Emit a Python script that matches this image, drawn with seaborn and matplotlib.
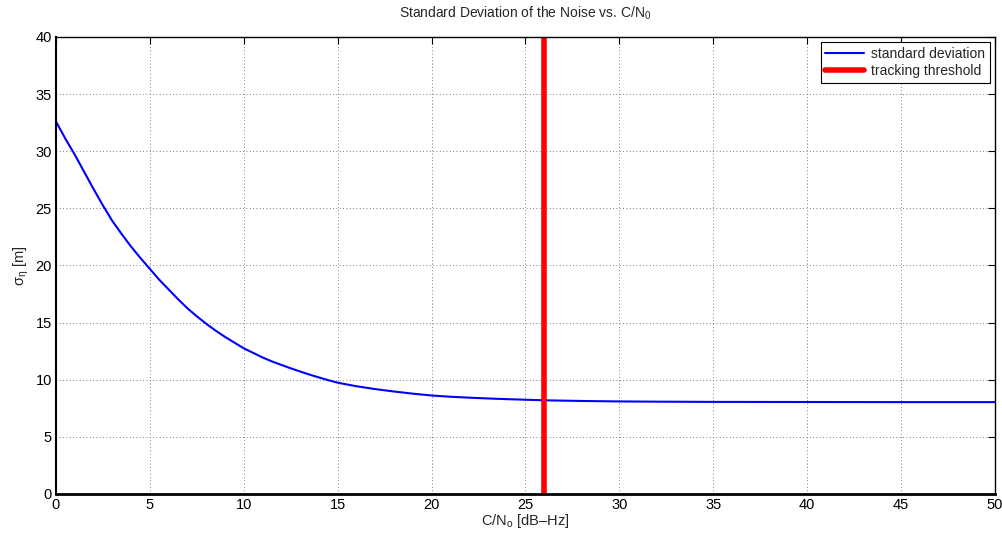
import numpy as np
import pandas as pd
import matplotlib
matplotlib.use("Agg")
import matplotlib.pyplot as plt
import seaborn as sns

# Data
cn0 = [0, 0.5, 1, 1.5, 2, 2.5, 3, 3.5, 4, 4.5, 5, 5.5, 6, 6.5, 7, 7.5, 8, 8.5, 9, 9.5,
       10, 10.5, 11, 11.5, 12, 12.5, 13, 13.5, 14, 14.5, 15, 16, 17, 18, 19, 20,
       21, 22, 23, 24, 25, 26, 27, 28, 29, 30, 32, 35, 40, 45, 50]
sigma = [32.6, 31.1, 29.7, 28.2, 26.7, 25.25, 23.9, 22.75, 21.65, 20.65, 19.7, 18.75,
         17.9, 17.05, 16.25, 15.55, 14.9, 14.3, 13.75, 13.25,
         12.75, 12.35, 11.95, 11.6, 11.3, 11.0, 10.72, 10.45, 10.2, 9.96, 9.74, 9.43, 9.18, 8.97, 8.78, 8.62,
         8.51, 8.43, 8.36, 8.3, 8.25, 8.2, 8.17, 8.14, 8.12, 8.1, 8.08, 8.06, 8.05, 8.04, 8.04]
threshold = 26
xticks = [0, 5, 10, 15, 20, 25, 30, 35, 40, 45, 50]
yticks = [0, 5, 10, 15, 20, 25, 30, 35, 40]

sns.set_style("white")
plt.rcParams['font.family'] = ['Liberation Sans', 'DejaVu Sans']
plt.rcParams['mathtext.fontset'] = 'custom'
plt.rcParams['mathtext.rm'] = 'Liberation Sans'
plt.rcParams['mathtext.it'] = 'Liberation Sans'

fig = plt.figure(figsize=(10.03, 5.36), dpi=100)
ax = fig.add_axes([0.0558, 0.0784, 0.9362, 0.8526])

df = pd.DataFrame({"cn0": cn0, "sigma": sigma})
sns.lineplot(data=df, x="cn0", y="sigma", ax=ax, color="#0000ff", linewidth=1.5,
             label="standard deviation")
ax.axvline(threshold, color="#ff0000", linewidth=4, label="tracking threshold")

ax.set_xlim(0, 50)
ax.set_ylim(0, 40)
ax.set_xticks(xticks)
ax.set_yticks(yticks)
ax.tick_params(direction="in", length=5, width=0.8, top=True, right=True,
               labelsize=10.5, colors="black", pad=3)
ax.grid(True, linestyle=(0, (1, 3)), color="#555555", linewidth=0.6)
for s in ax.spines.values():
    s.set_visible(True)
    s.set_color("black")
    s.set_linewidth(1.0)
ax.spines['bottom'].set_linewidth(2.0)
ax.spines['left'].set_linewidth(1.5)

ax.set_title("Standard Deviation of the Noise vs. C/N$_0$", fontsize=10, pad=14)
ax.set_xlabel("C/N$_{\\mathrm{o}}$ [dB\u2013Hz]", fontsize=10.5, labelpad=0)
ax.set_ylabel("\u03c3$_{\\mathrm{\u03b7}}$ [m]", fontsize=10.5, labelpad=3)

leg = ax.legend(loc="upper right", fontsize=10, frameon=True, fancybox=False,
                edgecolor="black", framealpha=1, borderaxespad=0.35,
                handlelength=2.8, handletextpad=0.5, borderpad=0.35, labelspacing=0.25)
leg.get_frame().set_linewidth(0.8)

fig.savefig("out.png", dpi=100)
